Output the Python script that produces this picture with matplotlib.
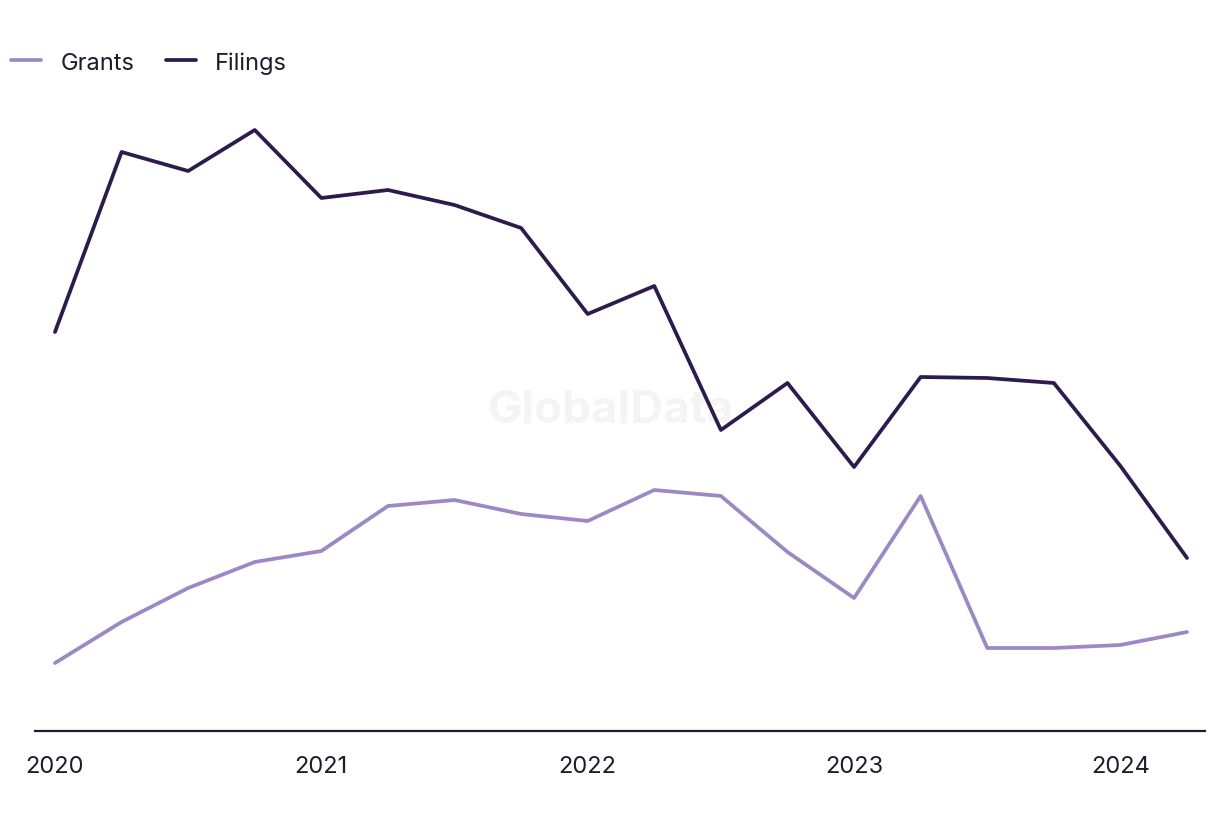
import numpy as np
import matplotlib
matplotlib.use("Agg")
import matplotlib.pyplot as plt

plt.rcParams['font.family'] = ['Inter', 'DejaVu Sans']

# quarterly values, 2020 Q1 .. 2024 Q2 (arbitrary units)
quarters = np.arange(18)
filings = [399, 579, 560, 601, 533, 541, 526, 503, 417, 445, 301, 348, 264, 354, 353, 348, 265, 173]
grants = [68, 109, 143, 169, 180, 225, 231, 217, 210, 241, 235, 179, 133, 235, 83, 83, 86, 99]
year_ticks = [0, 4, 8, 12, 16]
year_labels = ["2020", "2021", "2022", "2023", "2024"]

fig = plt.figure(figsize=(12.2, 8.2), dpi=100)
ax = fig.add_axes([35/1220, 88/820, 1170/1220, 630/820])

ax.plot(quarters, grants, color="#9d88c6", lw=2.7, label="Grants", solid_capstyle="round")
ax.plot(quarters, filings, color="#2e1b4e", lw=2.7, label="Filings", solid_capstyle="round")

ax.text(0.492, 0.51, "GlobalData", transform=ax.transAxes, ha="center", va="center",
        fontsize=33, fontweight="bold", color="#f4f4f4", zorder=0)

ax.set_xlim(-0.3, 17.27)
ax.set_ylim(0, 630)
ax.set_xticks(year_ticks)
ax.set_xticklabels(year_labels, fontsize=17, color="#1c1c2c")
ax.tick_params(axis="x", length=0, pad=17)
ax.set_yticks([])
for s in ["top", "right", "left"]:
    ax.spines[s].set_visible(False)
ax.spines["bottom"].set_color("#1c1c2c")
ax.spines["bottom"].set_linewidth(1.6)

leg = fig.legend(loc="upper left", bbox_to_anchor=(0.0015, 0.948), ncol=2, frameon=False,
                 fontsize=17, handlelength=1.27, columnspacing=1.35, handletextpad=0.8,
                 borderaxespad=0)
for t in leg.get_texts():
    t.set_color("#1c1c2c")

fig.savefig("out.png", dpi=100)
